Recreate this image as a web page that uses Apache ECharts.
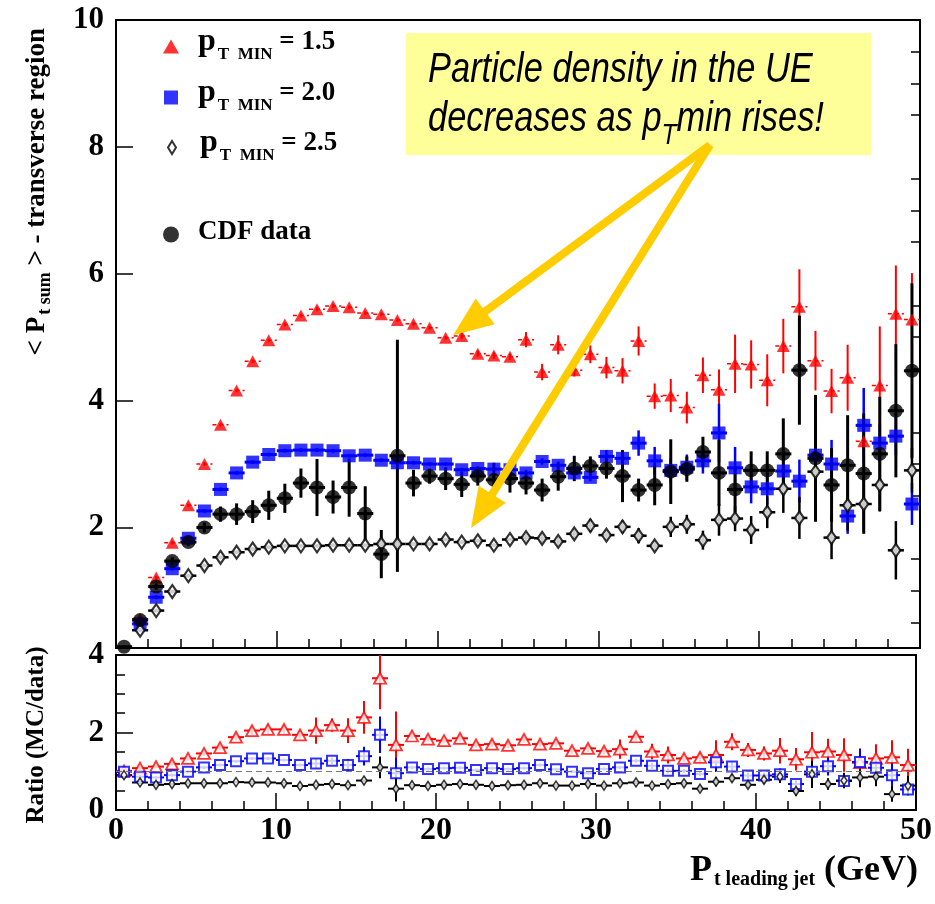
<!DOCTYPE html>
<html>
<head>
<meta charset="utf-8">
<script src="https://cdn.jsdelivr.net/npm/echarts@6/dist/echarts.min.js"></script>
<style>
  html, body { margin: 0; padding: 0; background: #ffffff; }
  #chart { width: 935px; height: 904px; }
</style>
</head>
<body>
<div id="chart"></div>
<script>
// Leading-jet pT bin centres (GeV), 1 GeV bins
const binCenters = [0.5, 1.5, 2.5, 3.5, 4.5, 5.5, 6.5, 7.5, 8.5, 9.5,
  10.5, 11.5, 12.5, 13.5, 14.5, 15.5, 16.5, 17.5, 18.5, 19.5,
  20.5, 21.5, 22.5, 23.5, 24.5, 25.5, 26.5, 27.5, 28.5, 29.5,
  30.5, 31.5, 32.5, 33.5, 34.5, 35.5, 36.5, 37.5, 38.5, 39.5,
  40.5, 41.5, 42.5, 43.5, 44.5, 45.5, 46.5, 47.5, 48.5, 49.5];
const binHalfWidth = 0.5;

// <Pt sum> in the transverse region, MC with pT min = 1.5 GeV
const ptSum15 = [null, 0.56, 1.21, 1.76, 2.35, 3.00, 3.62, 4.16, 4.62, 4.95,
  5.20, 5.34, 5.44, 5.49, 5.47, 5.38, 5.36, 5.27, 5.21, 5.15,
  4.99, 5.02, 4.74, 4.71, 4.69, 4.96, 4.45, 4.88, 4.48, 4.73,
  4.52, 4.47, 4.94, 4.07, 4.08, 3.89, 4.40, 4.17, 4.58, 4.57,
  4.32, 4.86, 5.48, 4.63, 4.15, 4.36, 3.36, 4.24, 5.37, 5.28];
const ptSum15Err = [null, 0.03, 0.03, 0.03, 0.03, 0.03, 0.03, 0.03, 0.03, 0.03,
  0.03, 0.03, 0.03, 0.03, 0.03, 0.03, 0.03, 0.03, 0.03, 0.03,
  0.03, 0.05, 0.05, 0.05, 0.05, 0.12, 0.13, 0.15, 0.10, 0.14,
  0.17, 0.20, 0.23, 0.20, 0.26, 0.25, 0.28, 0.32, 0.46, 0.38,
  0.41, 0.43, 0.59, 0.47, 0.35, 0.52, 0.40, 0.93, 0.76, 0.73];

// MC with pT min = 2.0 GeV
const ptSum20 = [null, 0.48, 0.90, 1.35, 1.83, 2.26, 2.60, 2.86, 3.03, 3.15,
  3.21, 3.22, 3.22, 3.21, 3.13, 3.14, 3.06, 3.02, 3.02, 3.00,
  3.00, 2.91, 2.93, 2.92, 2.91, 2.86, 3.04, 2.98, 2.86, 2.79,
  3.12, 3.09, 3.33, 3.05, 2.90, 2.95, 3.05, 3.49, 2.94, 2.64,
  2.61, 2.89, 2.73, 3.14, 3.00, 2.18, 3.61, 3.33, 3.44, 2.37];
const ptSum20Err = [null, 0.03, 0.03, 0.03, 0.03, 0.03, 0.03, 0.03, 0.03, 0.03,
  0.03, 0.03, 0.03, 0.03, 0.03, 0.03, 0.03, 0.03, 0.03, 0.03,
  0.03, 0.03, 0.03, 0.03, 0.03, 0.05, 0.05, 0.06, 0.08, 0.06,
  0.10, 0.10, 0.20, 0.22, 0.20, 0.20, 0.20, 0.46, 0.33, 0.26,
  0.25, 0.25, 0.34, 0.30, 0.38, 0.28, 0.59, 0.30, 0.30, 0.33];

// MC with pT min = 2.5 GeV
const ptSum25 = [null, 0.38, 0.69, 0.99, 1.24, 1.40, 1.53, 1.61, 1.66, 1.69,
  1.71, 1.71, 1.71, 1.72, 1.72, 1.72, 1.74, 1.74, 1.74, 1.74,
  1.81, 1.77, 1.79, 1.72, 1.81, 1.84, 1.83, 1.78, 1.90, 2.03,
  1.88, 2.01, 1.87, 1.71, 2.01, 2.05, 1.80, 2.12, 2.14, 1.96,
  2.24, 2.61, 2.15, 2.88, 1.84, 2.35, 2.37, 2.67, 1.64, 2.90];
const ptSum25Err = [null, 0.03, 0.03, 0.03, 0.03, 0.03, 0.03, 0.03, 0.03, 0.03,
  0.03, 0.03, 0.03, 0.03, 0.03, 0.03, 0.03, 0.03, 0.03, 0.03,
  0.03, 0.03, 0.03, 0.03, 0.03, 0.06, 0.06, 0.07, 0.08, 0.10,
  0.08, 0.10, 0.12, 0.08, 0.16, 0.15, 0.15, 0.25, 0.20, 0.22,
  0.25, 0.38, 0.33, 0.30, 0.34, 0.40, 0.42, 0.42, 0.46, 0.35];

// CDF measurement
const cdfData = [0.12, 0.54, 1.07, 1.47, 1.77, 2.00, 2.21, 2.21, 2.25, 2.35,
  2.46, 2.70, 2.63, 2.48, 2.63, 2.22, 1.58, 3.13, 2.70, 2.81,
  2.77, 2.68, 2.81, 2.75, 2.77, 2.70, 2.59, 2.80, 2.93, 2.97,
  2.93, 2.81, 2.59, 2.67, 2.88, 2.92, 3.19, 2.86, 2.60, 2.90,
  2.90, 3.16, 4.48, 3.09, 2.67, 2.98, 2.85, 3.16, 3.84, 4.47];
const cdfErr = [0.02, 0.05, 0.05, 0.06, 0.06, 0.08, 0.12, 0.17, 0.18, 0.23,
  0.23, 0.23, 0.45, 0.26, 0.46, 0.43, 0.38, 1.83, 0.21, 0.12,
  0.18, 0.20, 0.15, 0.27, 0.22, 0.18, 0.18, 0.22, 0.20, 0.15,
  0.16, 0.41, 0.18, 0.32, 0.51, 0.20, 0.24, 0.52, 0.36, 0.30,
  0.30, 0.56, 0.86, 1.00, 0.58, 0.79, 0.95, 0.90, 1.05, 1.38];

// Ratio MC / data for each pT min
const ratio15 = [1.01, 1.08, 1.12, 1.19, 1.33, 1.46, 1.61, 1.88, 2.05, 2.08,
  2.08, 1.94, 2.05, 2.19, 2.05, 2.39, 3.40, 1.68, 1.91, 1.83,
  1.79, 1.85, 1.68, 1.70, 1.67, 1.82, 1.70, 1.72, 1.53, 1.59,
  1.52, 1.57, 1.89, 1.51, 1.42, 1.33, 1.36, 1.42, 1.76, 1.55,
  1.46, 1.53, 1.31, 1.49, 1.51, 1.42, 1.22, 1.33, 1.36, 1.16];
const ratio15Err = [0.05, 0.05, 0.05, 0.06, 0.06, 0.06, 0.07, 0.08, 0.11, 0.12,
  0.11, 0.10, 0.34, 0.17, 0.32, 0.42, 0.80, 0.86, 0.08, 0.07,
  0.07, 0.08, 0.07, 0.08, 0.08, 0.08, 0.08, 0.09, 0.08, 0.09,
  0.09, 0.25, 0.10, 0.20, 0.22, 0.10, 0.12, 0.38, 0.22, 0.18,
  0.18, 0.33, 0.29, 0.52, 0.33, 0.43, 0.20, 0.37, 0.44, 0.42];
const ratio20 = [0.99, 0.86, 0.84, 0.90, 0.99, 1.10, 1.16, 1.26, 1.33, 1.33,
  1.29, 1.16, 1.20, 1.27, 1.16, 1.39, 1.94, 0.95, 1.10, 1.06,
  1.08, 1.09, 1.03, 1.08, 1.06, 1.08, 1.16, 1.05, 0.99, 0.95,
  1.06, 1.10, 1.27, 1.14, 1.01, 1.01, 0.93, 1.23, 1.12, 0.89,
  0.89, 0.92, 0.67, 0.99, 1.13, 0.75, 1.24, 1.09, 0.90, 0.53];
const ratio20Err = [0.04, 0.04, 0.04, 0.04, 0.04, 0.04, 0.04, 0.04, 0.04, 0.04,
  0.04, 0.04, 0.12, 0.08, 0.15, 0.24, 0.47, 0.40, 0.04, 0.04,
  0.04, 0.04, 0.04, 0.04, 0.04, 0.04, 0.04, 0.04, 0.04, 0.04,
  0.04, 0.04, 0.05, 0.08, 0.06, 0.05, 0.06, 0.25, 0.12, 0.08,
  0.08, 0.15, 0.10, 0.20, 0.24, 0.12, 0.35, 0.15, 0.36, 0.15];
const ratio25 = [0.90, 0.71, 0.65, 0.67, 0.69, 0.69, 0.69, 0.72, 0.71, 0.71,
  0.69, 0.62, 0.65, 0.67, 0.64, 0.76, 1.10, 0.55, 0.64, 0.62,
  0.65, 0.67, 0.65, 0.62, 0.64, 0.65, 0.69, 0.63, 0.63, 0.67,
  0.63, 0.69, 0.71, 0.63, 0.67, 0.69, 0.55, 0.73, 0.82, 0.65,
  0.78, 0.86, 0.49, 0.92, 0.67, 0.76, 0.84, 0.86, 0.41, 0.63];
const ratio25Err = [0.03, 0.03, 0.03, 0.03, 0.03, 0.03, 0.03, 0.03, 0.03, 0.03,
  0.03, 0.03, 0.03, 0.03, 0.03, 0.03, 0.28, 0.33, 0.04, 0.04,
  0.04, 0.04, 0.04, 0.04, 0.04, 0.04, 0.04, 0.04, 0.04, 0.04,
  0.04, 0.04, 0.04, 0.04, 0.04, 0.04, 0.06, 0.12, 0.10, 0.08,
  0.10, 0.16, 0.12, 0.35, 0.15, 0.20, 0.25, 0.25, 0.20, 0.25];
const ratioReference = 1;

// Axis tick positions
const upperMajorTicks = [2, 4, 6, 8, 10];
const upperMinorTicks = [0.5, 1, 1.5, 2.5, 3, 3.5, 4.5, 5, 5.5, 6.5, 7, 7.5, 8.5, 9, 9.5];

// Annotation arrow anchors in data coordinates (upper panel)
const arrowTail = [36.94, 8.03];
const arrowTips = [[20.96, 5.03], [22.08, 1.99]];

const SERIF = "'Liberation Serif', 'Times New Roman', serif";
const RED = '#ff0000';
const BLUE = '#0000ff';
const BLACK = '#000000';

function rows(values, errors) {
  const out = [];
  binCenters.forEach(function (x, i) {
    if (values[i] != null) out.push([x, values[i], errors[i]]);
  });
  return out;
}

function points(values, errors) {
  return rows(values, errors).map(function (r) { return [r[0], r[1]]; });
}

// Vertical (statistical) and horizontal (bin width) error bars
function errorBars(name, panel, values, errors, color, widthV, widthH, dashH) {
  return {
    name: name,
    type: 'custom',
    xAxisIndex: panel === 0 ? 0 : 1,
    yAxisIndex: panel === 0 ? 0 : 2,
    clip: true,
    silent: true,
    encode: { x: 0, y: 1 },
    data: rows(values, errors),
    renderItem: function (params, api) {
      const x = api.value(0), y = api.value(1), e = api.value(2);
      const lo = api.coord([x, y - e]);
      const hi = api.coord([x, y + e]);
      const l = api.coord([x - binHalfWidth, y]);
      const r = api.coord([x + binHalfWidth, y]);
      return {
        type: 'group',
        children: [
          { type: 'line', shape: { x1: lo[0], y1: lo[1], x2: hi[0], y2: hi[1] },
            style: { stroke: color, lineWidth: widthV } },
          { type: 'line', shape: { x1: l[0], y1: l[1], x2: r[0], y2: r[1] },
            style: { stroke: color, lineWidth: widthH, lineDash: dashH || null } }
        ]
      };
    }
  };
}

function markers(name, panel, values, errors, symbol, size, itemStyle) {
  return {
    name: name,
    type: 'scatter',
    xAxisIndex: panel === 0 ? 0 : 1,
    yAxisIndex: panel === 0 ? 0 : 2,
    symbol: symbol,
    symbolSize: size,
    silent: true,
    itemStyle: itemStyle,
    emphasis: { disabled: true },
    data: points(values, errors)
  };
}

const tickStyle = { color: BLACK, width: 1.5 };
const labelStyle = { fontFamily: SERIF, fontWeight: 'bold', fontSize: 31, color: BLACK };

// Legend text: p with subscript "T MIN"
function legendRich(padLeft) {
  return {
    p:   { fontFamily: SERIF, fontWeight: 'bold', fontSize: 32, lineHeight: 32, color: BLACK, padding: [0, 0, 9, padLeft] },
    sub: { fontFamily: SERIF, fontWeight: 'bold', fontSize: 17, lineHeight: 17, color: BLACK, padding: [16, 0, 0, 2] },
    eq:  { fontFamily: SERIF, fontWeight: 'bold', fontSize: 27, lineHeight: 27, color: BLACK, padding: [0, 0, 8, 0] },
    cdf: { fontFamily: SERIF, fontWeight: 'bold', fontSize: 27, lineHeight: 27, color: BLACK, padding: [0, 0, 4, padLeft] }
  };
}
const legendLabels = {
  'pT15': '{p|p}{sub|T  MIN}{eq| = 1.5}',
  'pT20': '{p|p}{sub|T  MIN}{eq| = 2.0}',
  'pT25': '{p|p}{sub|T  MIN}{eq| = 2.5}',
  'CDF data': '{cdf|CDF data}'
};
function legendBlock(name, icon, left, top, w, h, padLeft) {
  return {
    data: [{ name: name, icon: icon }],
    left: left, top: top, padding: 0,
    orient: 'vertical',
    itemWidth: w, itemHeight: h,
    symbolKeepAspect: false,
    selectedMode: false,
    formatter: function (n) { return legendLabels[n]; },
    textStyle: { rich: legendRich(padLeft) }
  };
}

const chart = echarts.init(document.getElementById('chart'));

const option = {
  animation: false,
  backgroundColor: '#ffffff',
  grid: [
    { left: 116, top: 20, width: 804, height: 628, show: true, borderColor: BLACK, borderWidth: 2, backgroundColor: 'transparent' },
    { left: 116, top: 655, width: 804, height: 155, show: true, borderColor: BLACK, borderWidth: 2, backgroundColor: 'transparent' }
  ],
  xAxis: [
    { gridIndex: 0, type: 'value', min: 0, max: 50, interval: 10,
      axisLine: { show: false },
      axisTick: { inside: true, length: 17, lineStyle: tickStyle },
      minorTick: { show: true, splitNumber: 5, length: 9, lineStyle: tickStyle },
      axisLabel: { show: false }, splitLine: { show: false }, minorSplitLine: { show: false } },
    { gridIndex: 1, type: 'value', min: 0, max: 50, interval: 10,
      axisLine: { show: false },
      axisTick: { inside: true, length: 17, lineStyle: tickStyle },
      minorTick: { show: true, splitNumber: 5, length: 9, lineStyle: tickStyle },
      axisLabel: Object.assign({ margin: 5 }, labelStyle, { fontSize: 32 }),
      splitLine: { show: false }, minorSplitLine: { show: false } }
  ],
  yAxis: [
    { gridIndex: 0, type: 'value', min: 0.1, max: 10,
      axisLine: { show: false },
      axisTick: { inside: true, length: 17, lineStyle: tickStyle, customValues: upperMajorTicks },
      axisLabel: Object.assign({ margin: 12, customValues: upperMajorTicks }, labelStyle),
      splitLine: { show: false } },
    { gridIndex: 0, type: 'value', min: 0.1, max: 10,
      axisLine: { show: false },
      axisTick: { inside: true, length: 9, lineStyle: tickStyle, customValues: upperMinorTicks },
      axisLabel: { show: false },
      splitLine: { show: false } },
    { gridIndex: 1, type: 'value', min: 0, max: 4, interval: 2,
      axisLine: { show: false },
      axisTick: { inside: true, length: 17, lineStyle: tickStyle },
      minorTick: { show: true, splitNumber: 4, length: 9, lineStyle: tickStyle },
      axisLabel: Object.assign({ margin: 12 }, labelStyle),
      splitLine: { show: false }, minorSplitLine: { show: false } }
  ],
  legend: [
    legendBlock('pT15', 'triangle', 163, 26, 16, 14, 14),
    legendBlock('pT20', 'rect', 164, 77, 14, 14, 15),
    legendBlock('pT25', 'diamond', 167, 127, 8, 13, 19),
    legendBlock('CDF data', 'circle', 163, 219, 16, 16, 14)
  ],
  series: [
    errorBars('pT15 errors', 0, ptSum15, ptSum15Err, RED, 2, 1.5, [4, 3]),
    markers('pT15', 0, ptSum15, ptSum15Err, 'triangle', [13, 12], { color: RED }),
    errorBars('pT20 errors', 0, ptSum20, ptSum20Err, BLUE, 2.5, 3),
    markers('pT20', 0, ptSum20, ptSum20Err, 'rect', 13, { color: BLUE }),
    errorBars('pT25 errors', 0, ptSum25, ptSum25Err, BLACK, 2.5, 2.5),
    markers('pT25', 0, ptSum25, ptSum25Err, 'diamond', [9, 13], { color: '#ffffff', borderColor: BLACK, borderWidth: 2.2 }),
    errorBars('CDF data errors', 0, cdfData, cdfErr, BLACK, 3, 3),
    markers('CDF data', 0, cdfData, cdfErr, 'circle', 14, { color: BLACK }),

    errorBars('ratio 1.5 errors', 1, ratio15, ratio15Err, RED, 2, 2),
    markers('ratio 1.5', 1, ratio15, ratio15Err, 'triangle', [12, 11], { color: '#ffffff', borderColor: RED, borderWidth: 1.8 }),
    errorBars('ratio 2.0 errors', 1, ratio20, ratio20Err, BLUE, 2, 2),
    markers('ratio 2.0', 1, ratio20, ratio20Err, 'rect', 10, { color: '#ffffff', borderColor: BLUE, borderWidth: 2 }),
    errorBars('ratio 2.5 errors', 1, ratio25, ratio25Err, BLACK, 2, 2),
    Object.assign(markers('ratio 2.5', 1, ratio25, ratio25Err, 'diamond', [6, 9], { color: '#ffffff', borderColor: BLACK, borderWidth: 1.6 }), {
      markLine: {
        silent: true, symbol: 'none', label: { show: false },
        lineStyle: { color: '#777777', width: 1, type: [6, 4] },
        data: [{ yAxis: ratioReference }]
      }
    })
  ]
};

chart.setOption(option);

// Titles, annotation box and arrows
function arrowShapes(from, to) {
  const dx = to[0] - from[0], dy = to[1] - from[1];
  const len = Math.hypot(dx, dy);
  const ux = dx / len, uy = dy / len;
  const headLen = 40, headHalf = 16;
  const bx = to[0] - ux * headLen, by = to[1] - uy * headLen;
  const px = -uy, py = ux;
  return [
    { type: 'line', z: 100, shape: { x1: from[0], y1: from[1], x2: bx + ux * 3, y2: by + uy * 3 },
      style: { stroke: '#ffcc00', lineWidth: 8 } },
    { type: 'polygon', z: 100, shape: { points: [to, [bx + px * headHalf, by + py * headHalf], [bx - px * headHalf, by - py * headHalf]] },
      style: { fill: '#ffcc00' } }
  ];
}

const tailPx = chart.convertToPixel({ xAxisIndex: 0, yAxisIndex: 0 }, arrowTail);
const arrows = [];
arrowTips.forEach(function (tip) {
  const tipPx = chart.convertToPixel({ xAxisIndex: 0, yAxisIndex: 0 }, tip);
  arrowShapes(tailPx, tipPx).forEach(function (s) { arrows.push(s); });
});

const SANS = "'Liberation Sans', Arial, sans-serif";
const noteRich = {
  m: { fontFamily: SANS, fontStyle: 'italic', fontSize: 42, lineHeight: 42, color: '#0000ff' },
  s: { fontFamily: SANS, fontStyle: 'italic', fontSize: 30, lineHeight: 30, color: '#0000ff', padding: [34, 0, 0, 0] }
};

chart.setOption({
  graphic: [
    { type: 'rect', z: 90, shape: { x: 406, y: 33, width: 465, height: 122 }, style: { fill: '#ffff99' } },
    { type: 'text', z: 95, x: 428, y: 70, scaleX: 0.82,
      style: { text: '{m|Particle density in the UE}', rich: noteRich, align: 'left', verticalAlign: 'middle' } },
    { type: 'text', z: 95, x: 428, y: 119, scaleX: 0.82,
      style: { text: '{m|decreases as p}{s|T}{m|min rises!}', rich: noteRich, align: 'left', verticalAlign: 'middle' } },
    { type: 'group', z: 100, children: arrows },
    { type: 'text', x: 37, y: 28, rotation: Math.PI / 2,
      style: {
        text: '{a|< P}{s|t sum}{a| > - transverse region}',
        align: 'right', verticalAlign: 'middle',
        rich: {
          a: { fontFamily: SERIF, fontWeight: 'bold', fontSize: 27, lineHeight: 27, color: BLACK },
          s: { fontFamily: SERIF, fontWeight: 'bold', fontSize: 18, lineHeight: 18, color: BLACK, padding: [16, 0, 0, 2] }
        }
      } },
    { type: 'text', x: 37, y: 735, rotation: Math.PI / 2,
      style: { text: 'Ratio (MC/data)', align: 'center', verticalAlign: 'middle',
        font: "bold 25px 'Liberation Serif', 'Times New Roman', serif", fill: BLACK } },
    { type: 'text', x: 918, y: 871,
      style: {
        text: '{a|P}{s|t leading jet}{a| (GeV)}',
        align: 'right', verticalAlign: 'middle',
        rich: {
          a: { fontFamily: SERIF, fontWeight: 'bold', fontSize: 36, lineHeight: 36, color: BLACK },
          s: { fontFamily: SERIF, fontWeight: 'bold', fontSize: 20, lineHeight: 20, color: BLACK, padding: [17, 0, 0, 2] }
        }
      } }
  ]
});
</script>
</body>
</html>
